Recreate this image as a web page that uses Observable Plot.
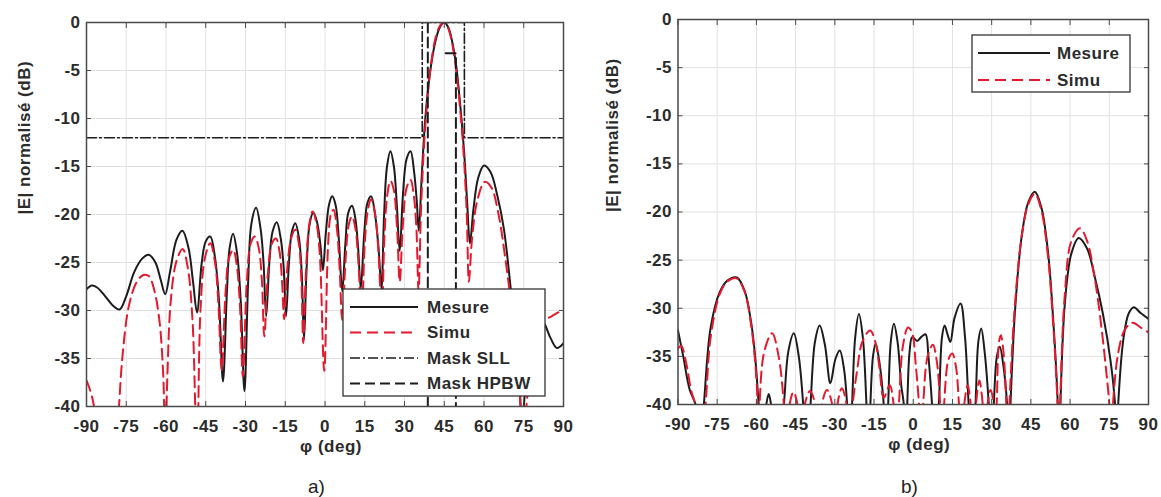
<!DOCTYPE html>
<html><head><meta charset="utf-8">
<script src="https://cdn.jsdelivr.net/npm/d3@7"></script>
<script src="https://cdn.jsdelivr.net/npm/@observablehq/plot@0.6"></script>
<style>
body{margin:0;background:#fff;width:1161px;height:497px;overflow:hidden;position:relative;font-family:"Liberation Sans",Arial,sans-serif;}
.panel{position:absolute;top:0;}
.cap{position:absolute;font-size:19px;color:#222;line-height:1;}
#legend{position:absolute;left:0;top:0;pointer-events:none;}
</style></head><body>
<div id="a" class="panel" style="left:0px"></div>
<div id="b" class="panel" style="left:580px"></div>
<div class="cap" style="left:308px;top:477px">a)</div>
<div class="cap" style="left:901px;top:477px">b)</div>
<script>
// ---------- data ----------
const phiTicks = [-90,-75,-60,-45,-30,-15,0,15,30,45,60,75,90];
const dbTicks = [-40,-35,-30,-25,-20,-15,-10,-5,0];
const xLabel = "φ (deg)";
const yLabel = "|E| normalisé (dB)";
const seriesNames = ["Mesure","Simu","Mask SLL","Mask HPBW"];

// panel a) : measured pattern (phi, dB)
const aMesure = [[-90,-27.8],[-88,-27.4],[-86,-27.6],[-83,-28.5],[-80,-29.5],[-77.5,-29.9],[-75,-28.5],[-72,-26],[-69,-24.6],[-66.5,-24.2],[-64,-25],[-62,-26.8],[-60.3,-28.3],[-58.5,-26],[-56,-22.6],[-53.8,-21.7],[-51.5,-23.5],[-49.8,-27],[-48.3,-30.2],[-46.5,-25],[-45,-22.8],[-43.3,-22.3],[-41.5,-24.5],[-40,-29],[-38.5,-37.4],[-37,-28],[-36,-23.5],[-34.7,-22],[-33.2,-24],[-31.8,-29],[-30.4,-38.4],[-29,-27],[-27.8,-21],[-26,-19.3],[-24.3,-21.5],[-23.2,-25],[-22.2,-30.6],[-21,-25],[-19.8,-21.8],[-18.2,-20.8],[-16.7,-22.5],[-15.6,-25.5],[-14.7,-30.6],[-13.6,-25],[-12.5,-21.8],[-11.2,-20.9],[-9.8,-22.5],[-8.8,-26],[-7.9,-33],[-7,-26],[-5.8,-21],[-4.4,-19.8],[-3,-20.8],[-1.8,-23],[-0.8,-25.8],[0.3,-22],[1.5,-19],[2.7,-18.1],[4,-19],[5.2,-22.5],[6.5,-28],[7.7,-23],[8.8,-19.8],[10.2,-19.1],[11.5,-20.5],[12.5,-23.5],[13.5,-27.7],[14.8,-22],[16,-18.8],[17.4,-18.1],[18.8,-19.8],[20.2,-23.5],[21.3,-27.7],[22.3,-20],[23.4,-15],[24.7,-13.4],[26,-15],[27.1,-19],[28.2,-23.8],[29.4,-18],[30.8,-14.2],[32.3,-13.4],[33.6,-15.5],[34.6,-18.5],[35.4,-21.7],[36.5,-16],[38,-9.5],[40,-4.5],[42,-1.6],[43.5,-0.4],[45,0],[46.5,-0.5],[48,-2],[49.5,-4.5],[51,-8.5],[52.5,-13.5],[53.6,-18.5],[54.7,-23],[56,-19.5],[57.8,-16.2],[60,-14.9],[62.5,-15.6],[65,-18],[67.5,-21.5],[70,-27.5],[72,-33],[73.5,-38],[74.2,-42],[75,-40],[77,-34],[80,-31],[82.5,-31.3],[85,-32.8],[87.5,-33.9],[90,-33.4]];
// panel a) : simulated pattern
const aSimu = [[-90,-37.3],[-89,-38],[-87.5,-39.5],[-86.3,-42],[-84,-47],[-80,-47],[-78,-41],[-76.5,-35],[-74,-29.5],[-71,-27],[-68.5,-26.3],[-66.5,-26.4],[-64.5,-27.8],[-62.5,-31],[-61,-37],[-60.3,-45],[-59.5,-37],[-58.2,-29],[-56,-24.8],[-53.7,-23.6],[-51.8,-25.5],[-50,-31],[-48.3,-45],[-47,-30],[-45.3,-24.5],[-43.3,-23],[-41.5,-25],[-40.2,-29.5],[-39,-36.2],[-37.5,-28],[-36.2,-24.5],[-34.6,-23.7],[-33.2,-25.5],[-32,-30],[-31,-36.9],[-29.5,-27],[-28,-23],[-26.5,-22.3],[-25,-23.5],[-23.8,-27],[-22.9,-32.7],[-21.5,-26],[-20,-23],[-18.5,-22.5],[-17.2,-23.8],[-16.2,-27],[-15.4,-30.9],[-14.2,-25.5],[-12.8,-22.5],[-11.2,-21.6],[-9.8,-23.2],[-8.9,-27],[-8.2,-33.4],[-7.2,-26],[-6,-21.2],[-4.7,-19.7],[-3.3,-20.8],[-2,-24],[-0.3,-36.3],[1.2,-23],[2.2,-20],[3.2,-19.5],[4.5,-21.5],[5.5,-25.5],[6.5,-31],[7.8,-24.5],[9,-21],[10.2,-20.2],[11.5,-21.5],[12.6,-25],[13.8,-30.5],[15,-23],[16.2,-19.5],[17.4,-18.4],[18.8,-19.8],[20.2,-24],[21.4,-31],[22.4,-22.5],[23.5,-18],[24.7,-16.5],[26,-17.5],[27.2,-21.5],[28.2,-27],[29.4,-21],[30.8,-17.2],[32.3,-16.4],[33.5,-18],[34.5,-21.5],[35.3,-28],[36.3,-19],[37.8,-11],[39.8,-4.8],[41.8,-1.5],[43.5,-0.3],[45,0],[46.5,-0.6],[48,-2.2],[49.5,-5],[51,-9],[52.4,-14],[53.5,-20],[54.3,-27],[55.5,-22.5],[57.5,-18.5],[60.3,-16.6],[62.8,-17.2],[65.5,-20],[68,-24.5],[70.5,-30],[72.5,-36],[73.8,-40],[74.8,-47],[76,-40],[78,-35.5],[80.5,-32.5],[83,-31],[85.5,-30.6],[88,-30.2],[90,-29.9]];
// panel a) : masks
const maskSLL = [[-90,-12],[36.7,-12],[36.7,0],[52.6,0],[52.6,-12],[90,-12]];
const maskHPBWLeft = [[38.8,0],[38.8,-40]];
const maskHPBWRight = [[45.5,-3.2],[49.4,-3.2],[49.4,-40]];

// panel b) : measured pattern
const bMesure = [[-90,-32.3],[-88,-35],[-85.5,-38.5],[-83.3,-40],[-81.8,-46],[-80.1,-40],[-77.5,-32],[-74,-28.3],[-71,-27.1],[-67.5,-26.8],[-64.5,-28.2],[-62,-31.5],[-60.5,-35],[-59.1,-40],[-57.5,-45],[-56.2,-40],[-55.3,-38.9],[-54.4,-40],[-52,-46],[-49.5,-40],[-47.8,-34.5],[-45.7,-32.6],[-43.8,-35],[-42.1,-40],[-40.7,-46],[-39.3,-40],[-37.6,-33.5],[-35.8,-31.8],[-33.8,-33.8],[-31.7,-37.8],[-29.8,-35.3],[-28.1,-34.4],[-26.5,-36.3],[-25.3,-40],[-24.3,-46],[-23.4,-40],[-22.2,-33],[-20.8,-30.6],[-19.3,-33],[-17.9,-40],[-17.1,-45],[-16.4,-40],[-15.4,-35],[-14.4,-33.7],[-13,-35.5],[-11.3,-40],[-10.4,-45],[-9.6,-40],[-8.6,-33.5],[-7.4,-31.6],[-6,-33.5],[-4.6,-38],[-3.6,-40],[-3,-45],[-2.3,-40],[-1.4,-34.5],[-0.4,-33],[1.5,-33.4],[3,-33],[4.7,-32.7],[5.8,-35],[7.2,-40],[8.5,-45],[9.8,-40],[11,-33],[12,-31.8],[13.2,-32.8],[14.2,-33.5],[15.8,-31],[18.1,-29.5],[19.8,-33],[21.2,-40],[22.5,-45],[23.8,-40],[24.9,-33.5],[26,-32.1],[27.3,-34.5],[28.9,-40],[29.8,-45],[30.8,-40],[32,-35],[33.1,-34],[34.5,-36],[35.9,-40],[36.6,-45],[37.2,-40],[39,-30],[41.5,-22.5],[44,-19],[46.5,-17.9],[49,-19.5],[51.5,-24],[53.5,-31],[55.3,-40],[55.8,-46],[56.3,-40],[58,-29.5],[60.5,-24.3],[63.3,-22.7],[66.5,-23.8],[69.5,-26.8],[72.5,-30.5],[75.5,-35.5],[77.2,-40],[77.8,-45],[78.4,-40],[80.5,-33],[82.5,-30.5],[84.4,-29.9],[87,-30.5],[90,-31.1]];
// panel b) : simulated pattern
const bSimu = [[-90,-34.2],[-88.8,-33.9],[-87,-35.5],[-85,-38.5],[-83.5,-40],[-82,-45],[-80.5,-42],[-79.5,-40],[-77.5,-33],[-74,-28.5],[-71,-27.2],[-67.5,-26.9],[-64.5,-28.3],[-62,-31.8],[-60.5,-35.5],[-59.5,-40],[-59.2,-44],[-58.8,-40],[-57,-34.5],[-54,-32.6],[-51.5,-35],[-49.5,-40],[-48.5,-45],[-47.3,-40],[-45.8,-38.7],[-44.3,-40],[-43,-45],[-41.5,-40],[-39.5,-38.6],[-37.5,-40],[-36.3,-45],[-35,-40],[-33,-38.5],[-31,-40],[-30,-45],[-29,-40],[-27.3,-38.3],[-25.5,-40],[-24.5,-44],[-23.2,-40],[-21.5,-36.5],[-19.5,-33.5],[-16.5,-32.3],[-14.5,-33.5],[-13,-36],[-11.3,-39.3],[-9,-38],[-7.5,-40],[-6.5,-43],[-5.5,-40],[-4,-34],[-2,-32],[-0.5,-32.5],[1,-36],[2.2,-40],[3,-44],[3.8,-40],[5.5,-35],[7.5,-33.8],[9,-35.5],[10.3,-40],[11,-44],[11.8,-40],[13.5,-35.3],[14.9,-34.7],[16.3,-36],[17.5,-40],[18.5,-44],[19.5,-40],[20.8,-38],[22,-40],[23,-44],[24,-40],[25.3,-37.5],[26.6,-40],[27.5,-44],[28.4,-40],[29.6,-38.5],[30.8,-40],[31.3,-42],[31.9,-40],[32.8,-33.5],[33.5,-32.8],[34.5,-34.5],[35.6,-40],[36.2,-45],[36.8,-40],[38.8,-30],[41.5,-22.5],[44,-19.2],[46.5,-18.1],[49,-19.8],[51.5,-24.5],[53.5,-31.5],[55.2,-40],[55.7,-46],[56.2,-40],[58,-28.5],[60.5,-23],[63.8,-21.7],[66.5,-23],[69.5,-27],[72,-32],[74,-37],[75,-40],[75.7,-45],[76.4,-40],[78.5,-34.5],[81,-32.2],[84,-31.5],[87,-32],[90,-32.5]];

// ---------- styles ----------
const BLACK = "#1c1c1c", RED = "#e3192e", AXIS = "#4a4a4a", GRID = "#e2e2e2", TXT = "#2b2b2b";
const FONT = "'Liberation Sans', Arial, sans-serif";
const styleOf = {
  "Mesure": {stroke: BLACK, strokeWidth: 2, curve: "catmull-rom"},
  "Simu": {stroke: RED, strokeWidth: 2, strokeDasharray: "11,6", curve: "catmull-rom"},
  "Mask SLL": {stroke: BLACK, strokeWidth: 1.6, strokeDasharray: "10,3,2,3", curve: "linear"},
  "Mask HPBW": {stroke: BLACK, strokeWidth: 2, strokeDasharray: "10,5", curve: "linear"}
};
const fmt = d => String(d);
const px = d => d[0], py = d => d[1];

function lineMark(data, name) {
  return Plot.line(data, {x: px, y: py, clip: true, ...styleOf[name]});
}

function panel(lines, m) {
  return Plot.plot({
    width: m.width, height: 460,
    marginLeft: m.left, marginRight: m.right, marginTop: m.top, marginBottom: m.bottom,
    x: {domain: [-90, 90]},
    y: {domain: [-40, 0]},
    style: {fontFamily: FONT, fontSize: "17px", fontWeight: "bold", color: TXT, background: "transparent", overflow: "visible", letterSpacing: "0.5px"},
    marks: [
      Plot.gridX(phiTicks, {stroke: GRID, strokeOpacity: 1, strokeWidth: 1}),
      Plot.gridY(dbTicks, {stroke: GRID, strokeOpacity: 1, strokeWidth: 1}),
      ...lines,
      Plot.axisX(phiTicks, {anchor: "bottom", tickSize: 5, dy: -5, tickFormat: () => "", stroke: AXIS, label: null}),
      Plot.axisX(phiTicks, {anchor: "top", tickSize: 5, dy: 5, tickFormat: () => "", stroke: AXIS, label: null}),
      Plot.axisY(dbTicks, {anchor: "left", tickSize: 5, dx: 5, tickFormat: () => "", stroke: AXIS, label: null}),
      Plot.axisY(dbTicks, {anchor: "right", tickSize: 5, dx: -5, tickFormat: () => "", stroke: AXIS, label: null}),
      Plot.axisX(phiTicks, {anchor: "bottom", tickSize: 0, tickPadding: 13, tickFormat: fmt, label: null, fill: TXT}),
      Plot.axisY(dbTicks, {anchor: "left", tickSize: 0, tickPadding: 6, tickFormat: fmt, label: null, fill: TXT}),
      Plot.frame({stroke: AXIS, strokeWidth: 1.5}),
      Plot.text([xLabel], {frameAnchor: "bottom", lineAnchor: "middle", dy: 40, dx: 6, fill: TXT, fontSize: 17, fontWeight: "bold"}),
      Plot.text([yLabel], {frameAnchor: "left", rotate: -90, dx: m.ylabDx, fill: TXT, fontSize: 17, fontWeight: "bold"})
    ]
  });
}

document.getElementById("a").append(panel([
  lineMark(aMesure, "Mesure"),
  lineMark(aSimu, "Simu"),
  lineMark(maskSLL, "Mask SLL"),
  lineMark(maskHPBWLeft, "Mask HPBW"),
  lineMark(maskHPBWRight, "Mask HPBW")
], {width: 580, left: 86, right: 17, top: 22, bottom: 54, ylabDx: -62}));

document.getElementById("b").append(panel([
  lineMark(bMesure, "Mesure"),
  lineMark(bSimu, "Simu")
], {width: 581, left: 97.5, right: 13, top: 19, bottom: 56, ylabDx: -65}));

// ---------- legends ----------
const svg = d3.select("body").append("svg").attr("id", "legend").attr("width", 1161).attr("height", 497);
function legend(box, names) {
  const g = svg.append("g");
  g.append("rect").attr("x", box.x).attr("y", box.y).attr("width", box.w).attr("height", box.h)
    .attr("fill", "#fff").attr("stroke", "#333").attr("stroke-width", 1.3);
  names.forEach((n, i) => {
    const y = box.y0 + i * box.step, s = styleOf[n];
    g.append("line").attr("x1", box.l1).attr("x2", box.l2).attr("y1", y).attr("y2", y)
      .attr("stroke", s.stroke).attr("stroke-width", s.strokeWidth)
      .attr("stroke-dasharray", s.strokeDasharray || null);
    g.append("text").attr("x", box.tx).attr("y", y).attr("dy", "0.35em")
      .attr("font-family", FONT).attr("font-size", 17).attr("font-weight", "bold")
      .attr("letter-spacing", "0.5px").attr("fill", TXT).text(n);
  });
}
legend({x: 343, y: 289, w: 202, h: 107, y0: 307, step: 25.5, l1: 350, l2: 418, tx: 427}, seriesNames);
legend({x: 972, y: 35, w: 158, h: 57, y0: 53, step: 27, l1: 978, l2: 1050, tx: 1057}, seriesNames.slice(0, 2));
</script>
</body></html>
